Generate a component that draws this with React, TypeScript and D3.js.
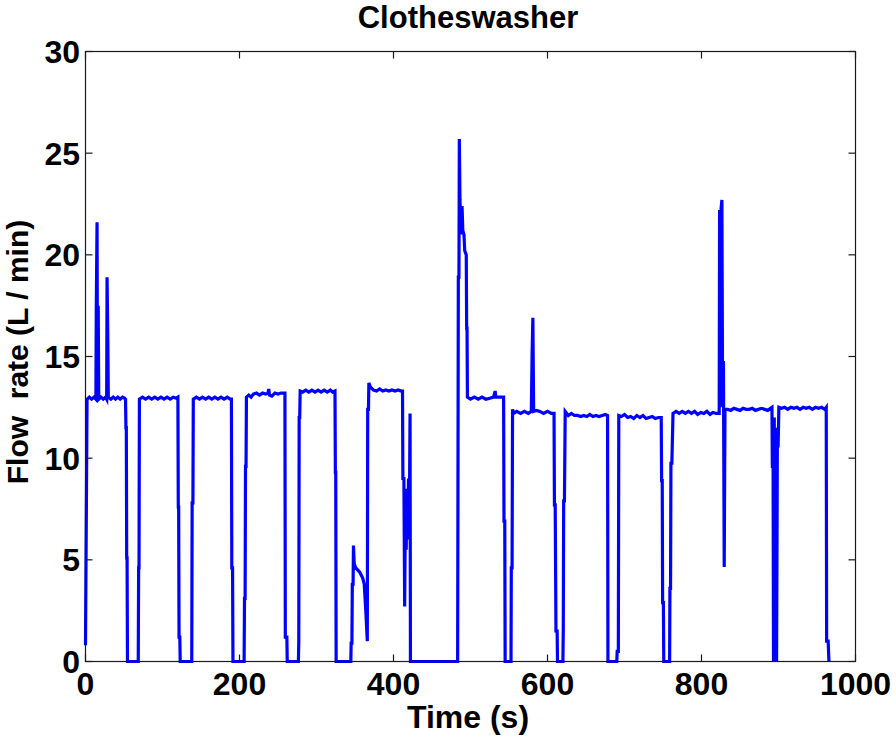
import React from "react";
import * as d3 from "d3";

const title = "Clotheswasher";
const xLabel = "Time (s)";
const yLabel = "Flow  rate (L / min)";
const xTicks = [0, 200, 400, 600, 800, 1000];
const yTicks = [0, 5, 10, 15, 20, 25, 30];

// [time (s), flow (L/min)]
const flowSeries: [number, number][] = [
  [0,0.8],[1,6.8],[2,12.9],[5,13.0],[8,12.9],[11,13.0],[13.5,12.9],[14,17.3],[15,21.6],[15.6,13.0],[16.5,17.5],[17.2,12.9],[20,13.0],[23,12.9],[26,13.0],[27.5,12.9],[28,18.9],[29,15.8],[29.6,13.0],[33,12.9],[36,13.0],[39,12.9],[42,13.0],[45,12.9],[48,13.0],[51,12.95],
  [52,12.9],[52.5,11.5],[53,11.5],[53.5,5.1],[54,5.1],[54.5,0],
  [68.5,0],[69,4.6],[69.5,4.6],[70,12.9],[74,13.0],[78,12.9],[82,13.0],[86,12.9],[90,13.0],[94,12.9],[98,13.0],[102,12.9],[106,13.0],[110,12.9],[114,13.0],[118,12.95],[120,13.0],
  [120.5,7.6],[121,7.6],[121.5,1.2],[122.5,1.2],[123,0],
  [138,0],[138.5,7.8],[139.5,7.8],[140,12.9],[144,13.0],[148,12.9],[152,13.0],[156,12.9],[160,13.0],[164,12.9],[168,13.0],[172,12.9],[176,13.0],[180,12.9],[184,13.0],[188,12.9],[189.5,12.9],
  [190,4.6],[191,4.6],[191.5,0],
  [206,0],[206.5,3.1],[207.3,3.1],[207.8,9.6],[208.5,9.6],[209,13.0],[212,13.1],[215,13.0],[218,13.15],[222,13.2],[226,13.1],[230,13.2],[234,13.15],[237,13.2],[238,13.4],[239,13.1],[242,13.05],[246,13.2],[250,13.15],[254,13.2],[259,13.2],
  [259.5,1.2],[261.5,1.2],[262,0],
  [276.5,0],[277,1.0],[277.5,12.0],[278.2,12.0],[278.8,13.3],[282,13.25],[286,13.35],[290,13.25],[294,13.35],[298,13.25],[302,13.35],[306,13.25],[310,13.35],[314,13.25],[318,13.35],[321,13.25],[324,13.3],
  [324.5,9.3],[325,9.3],[325.5,0],
  [344.6,0],[345,0.9],[346,0.9],[346.5,3.8],[347.5,3.8],[348,5.7],[349,4.8],[351,4.6],[356,4.4],[360,4.1],[362,3.8],[364,2.5],[366,1.0],
  [366.5,12.4],[367.5,12.4],[368,13.7],[370,13.5],[374,13.35],[378,13.3],[382,13.4],[386,13.3],[390,13.35],[394,13.3],[398,13.35],[402,13.3],[406,13.35],[410,13.3],[411.7,13.3],
  [412.2,9.0],[413.5,9.0],[414.5,2.7],[415.5,8.0],[416.5,5.5],[417.5,8.5],[418.5,6.0],[419.5,9.0],[420.5,6.5],[421.5,12.2],[422,0],
  [483.3,0],[483.6,6.0],[484.2,18.9],[485.0,18.9],[485.5,25.7],[486.3,22.7],[487,22.0],[488,21.0],[489,22.4],[490,21.2],[491.5,21.0],[492.5,20.2],[494.5,20.0],[495,16.4],[495.5,16.4],[496,13.0],[500,12.9],[505,13.0],[510,12.9],[515,13.0],[520,12.9],[525,12.95],[530,13.0],[532,13.3],[533,13.0],[538,13.0],[543,13.0],
  [543.5,6.9],[544.5,6.9],[545,0],
  [552.6,0],[553,4.6],[554,4.6],[554.6,12.4],[556,12.2],[560,12.3],[565,12.2],[570,12.3],[575,12.2],[579,12.3],[580,15.1],[581,16.9],[582,12.3],[586,12.35],[590,12.3],[595,12.2],[600,12.3],[605,12.2],[608.5,12.2],
  [609,7.7],[610,7.7],[611,1.5],[612.5,1.5],[613,0],
  [620,0],[620.5,1.6],[621,7.9],[622,7.9],[623,12.3],[627,12.1],[631,12.2],[635,12.1],[639,12.1],[643,12.05],[647,12.1],[651,12.05],[655,12.15],[659,12.05],[663,12.1],[667,12.05],[671,12.1],[675,12.15],[678,12.1],
  [678.5,0],[690,0],[690.5,0.5],[692,0.5],[692.6,12.1],[696,12.05],[700,12.15],[704,12.0],[708,12.05],[712,11.95],[716,12.1],[720,12.0],[724,12.1],[728,11.95],[732,12.0],[736,12.05],[740,11.95],[744,12.0],[747.7,12.0],
  [748.2,8.9],[749,8.9],[749.5,2.9],[750.5,2.9],[751,0],
  [758.6,0],[759,3.6],[759.8,3.6],[760.3,9.75],[761.5,9.75],[763,12.2],[767,12.3],[771,12.2],[775,12.3],[779,12.2],[783,12.3],[787,12.2],[791,12.3],[795,12.15],[799,12.25],[803,12.2],[807,12.3],[811,12.15],[815,12.25],[819,12.2],[823,12.2],
  [823.5,22.2],[824.5,12.5],[825.5,22.3],[826.5,22.7],[827.2,14.7],[828.5,14.7],[829.5,4.65],[830.5,12.4],[834,12.4],[838,12.35],[842,12.45],[846,12.4],[850,12.35],[854,12.45],[858,12.4],[862,12.4],[866,12.45],[870,12.35],[874,12.4],[878,12.45],[882,12.4],[886,12.35],[891.5,12.5],
  [892,9.6],[893,9.6],[893.5,0],[894.5,12.0],[895.5,0],[896.5,11.5],[897.5,0],[898.5,10.6],[899.5,10.6],[900.5,12.5],[904,12.45],[908,12.5],[912,12.4],[916,12.5],[920,12.45],[924,12.5],[928,12.4],[932,12.5],[936,12.45],[940,12.5],[944,12.4],[948,12.5],[952,12.45],[956,12.5],[960,12.4],[962,12.5],
  [962.5,1.0],[964.5,1.0],[965.5,0],
];

const W = 896, H = 739;
const L = 85.5, R = 855.5, T = 51.5, B = 661.5;
const FONT = "'Liberation Sans', Arial, Helvetica, sans-serif";

export default function App() {
  const x = d3.scaleLinear().domain([0, 1000]).range([L, R]);
  const y = d3.scaleLinear().domain([0, 30]).range([B, T]);
  const line = d3.line<[number, number]>().x(d => x(d[0])).y(d => y(d[1]));
  const tick = 7;
  const axisColor = "#1a1a1a";
  return (
    <svg width={W} height={H} style={{ position: "absolute", left: 0, top: 0, background: "#fff" }}>
      <rect x={0} y={0} width={W} height={H} fill="#fff" />
      <path d={line(flowSeries) || ""} fill="none" stroke="#0000ff" strokeWidth={3.2} strokeLinejoin="miter" />
      <rect x={L} y={T} width={R - L} height={B - T} fill="none" stroke={axisColor} strokeWidth={1.2} />
      {xTicks.map(t => (
        <g key={"x" + t}>
          <line x1={x(t)} x2={x(t)} y1={B} y2={B - tick} stroke={axisColor} strokeWidth={1.2} />
          <line x1={x(t)} x2={x(t)} y1={T} y2={T + tick} stroke={axisColor} strokeWidth={1.2} />
          <text x={x(t)} y={695} textAnchor="middle" fontFamily={FONT} fontWeight="bold" fontSize={32}>{t}</text>
        </g>
      ))}
      {yTicks.map(t => (
        <g key={"y" + t}>
          <line x1={L} x2={L + tick} y1={y(t)} y2={y(t)} stroke={axisColor} strokeWidth={1.2} />
          <line x1={R} x2={R - tick} y1={y(t)} y2={y(t)} stroke={axisColor} strokeWidth={1.2} />
          <text x={80} y={y(t) + 11.5} textAnchor="end" fontFamily={FONT} fontWeight="bold" fontSize={32}>{t}</text>
        </g>
      ))}
      <text x={468} y={28} textAnchor="middle" fontFamily={FONT} fontWeight="bold" fontSize={31}>{title}</text>
      <text x={468} y={728} textAnchor="middle" fontFamily={FONT} fontWeight="bold" fontSize={32}>{xLabel}</text>
      <text transform={`translate(28,352) rotate(-90)`} textAnchor="middle" fontFamily={FONT} fontWeight="bold" fontSize={30} style={{ whiteSpace: "pre" }}>{yLabel}</text>
    </svg>
  );
}
